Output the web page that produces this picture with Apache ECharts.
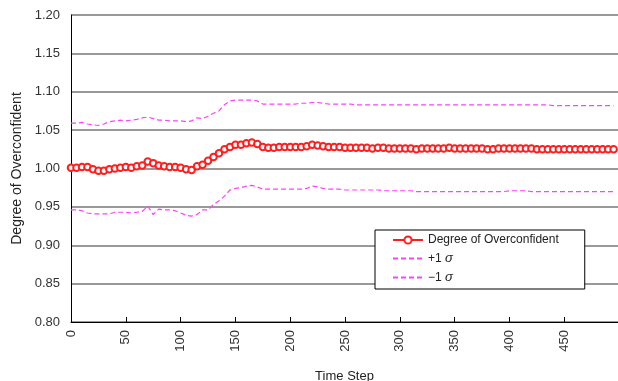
<!DOCTYPE html>
<html>
<head>
<meta charset="utf-8">
<script src="https://cdn.jsdelivr.net/npm/echarts@6/dist/echarts.min.js"></script>
<style>
html,body{margin:0;padding:0;background:#fff;}
#c{width:618px;height:381px;}
</style>
</head>
<body>
<div id="c"></div>
<script>
// Time steps sampled every 5 steps (0..495)
const timeSteps = Array.from({length: 100}, (_, i) => i * 5);
const xTicks = [0, 50, 100, 150, 200, 250, 300, 350, 400, 450];
const yTicks = [0.80, 0.85, 0.90, 0.95, 1.00, 1.05, 1.10, 1.15, 1.20];
const seriesNames = ['Degree of Overconfident', '+1 σ', '\u22121 σ'];

const degree = [
  1.001,1.001,1.002,1.002,0.999,0.997,0.997,0.999,1.000,1.001,
  1.002,1.001,1.003,1.004,1.009,1.007,1.004,1.003,1.002,1.002,
  1.001,0.999,0.998,1.003,1.005,1.010,1.015,1.020,1.025,1.028,
  1.031,1.031,1.033,1.034,1.032,1.028,1.027,1.027,1.028,1.028,
  1.028,1.028,1.028,1.029,1.031,1.030,1.029,1.028,1.028,1.028,
  1.027,1.027,1.027,1.027,1.027,1.026,1.027,1.027,1.026,1.026,
  1.026,1.026,1.026,1.025,1.026,1.026,1.026,1.026,1.026,1.027,
  1.026,1.026,1.026,1.026,1.026,1.026,1.025,1.025,1.026,1.026,
  1.026,1.026,1.026,1.026,1.026,1.025,1.025,1.025,1.025,1.025,
  1.025,1.025,1.025,1.025,1.025,1.025,1.025,1.025,1.025,1.025
];
const plusSigma = [
  1.059,1.059,1.060,1.058,1.057,1.056,1.058,1.061,1.062,1.063,
  1.062,1.063,1.064,1.066,1.067,1.065,1.063,1.063,1.062,1.062,
  1.062,1.061,1.062,1.066,1.065,1.068,1.072,1.075,1.083,1.088,
  1.089,1.089,1.089,1.089,1.088,1.084,1.084,1.084,1.084,1.084,
  1.084,1.084,1.085,1.085,1.086,1.086,1.085,1.084,1.084,1.084,
  1.084,1.084,1.083,1.083,1.083,1.083,1.083,1.083,1.083,1.083,
  1.083,1.083,1.083,1.083,1.083,1.083,1.083,1.083,1.083,1.083,
  1.083,1.083,1.083,1.083,1.083,1.083,1.083,1.083,1.083,1.083,
  1.083,1.083,1.083,1.083,1.083,1.083,1.083,1.083,1.082,1.082,
  1.082,1.082,1.082,1.082,1.082,1.082,1.082,1.082,1.082,1.082
];
const minusSigma = [
  0.946,0.946,0.945,0.942,0.941,0.941,0.941,0.941,0.943,0.943,
  0.943,0.942,0.943,0.944,0.951,0.940,0.947,0.946,0.946,0.945,
  0.942,0.939,0.938,0.940,0.946,0.946,0.953,0.958,0.964,0.972,
  0.974,0.975,0.977,0.978,0.976,0.973,0.973,0.973,0.973,0.973,
  0.973,0.973,0.973,0.974,0.977,0.976,0.974,0.973,0.973,0.973,
  0.972,0.972,0.972,0.972,0.972,0.972,0.972,0.971,0.971,0.971,
  0.971,0.971,0.971,0.970,0.970,0.970,0.970,0.970,0.970,0.970,
  0.970,0.970,0.970,0.970,0.970,0.970,0.970,0.970,0.970,0.970,
  0.971,0.971,0.971,0.971,0.970,0.970,0.970,0.970,0.970,0.970,
  0.970,0.970,0.970,0.970,0.970,0.970,0.970,0.970,0.970,0.970
];

const pair = arr => arr.map((v, i) => [timeSteps[i], v]);
const FONT = '"Liberation Sans", Arial, sans-serif';
const RED = '#ff1e1e';
const MAG = '#ff40ff';

const chart = echarts.init(document.getElementById('c'), null, {renderer: 'canvas'});
chart.setOption({
  animation: false,
  backgroundColor: '#fff',
  grid: {left: 71, right: 0, top: 15, bottom: 59, containLabel: false, outerBoundsMode: 'none'},
  xAxis: {
    type: 'value', min: 0, max: 499, interval: 50,
    name: 'Time Step', nameLocation: 'middle', nameGap: 48,
    nameTextStyle: {fontFamily: FONT, fontSize: 13, color: '#222'},
    axisLine: {lineStyle: {color: '#000', width: 1}},
    axisTick: {inside: true, length: 5, lineStyle: {color: '#000'}},
    axisLabel: {
      rotate: 90, margin: 8, fontFamily: FONT, fontSize: 13, color: '#333',
      showMaxLabel: false,
      formatter: v => xTicks.indexOf(v) >= 0 ? String(v) : ''
    },
    splitLine: {show: false}
  },
  yAxis: {
    type: 'value', min: 0.8, max: 1.2, interval: 0.05,
    name: 'Degree of Overconfident', nameLocation: 'middle', nameGap: 47,
    nameTextStyle: {fontFamily: FONT, fontSize: 14, color: '#222'},
    axisLine: {show: true, lineStyle: {color: '#000', width: 1}},
    axisTick: {show: false},
    axisLabel: {
      margin: 11, fontFamily: FONT, fontSize: 13, color: '#333',
      formatter: v => {
        const t = yTicks.find(y => Math.abs(y - v) < 1e-6);
        return t === undefined ? '' : t.toFixed(2);
      }
    },
    splitLine: {show: true, lineStyle: {color: '#777', width: 1.5}}
  },
  legend: {
    orient: 'vertical', left: 375, top: 230,
    backgroundColor: '#fff', borderColor: '#000', borderWidth: 1,
    padding: [4, 26, 5, 17],
    itemWidth: 30, itemHeight: 9, itemGap: 6,
    data: seriesNames,
    textStyle: {
      fontFamily: FONT, fontSize: 12, color: '#222',
      rich: {s: {fontStyle: 'italic', fontFamily: FONT, fontSize: 13, color: '#222'}}
    },
    formatter: n => n.replace('σ', '{s|σ}')
  },
  series: [
    {
      name: seriesNames[0], type: 'line', data: pair(degree),
      symbol: 'emptyCircle', symbolSize: 6.5, showAllSymbol: true,
      lineStyle: {color: RED, width: 2},
      itemStyle: {color: RED, borderColor: RED, borderWidth: 2},
      z: 3
    },
    {
      name: seriesNames[1], type: 'line', data: pair(plusSigma),
      symbol: 'none',
      lineStyle: {color: MAG, width: 1.2, type: [5, 3]},
      itemStyle: {color: 'rgba(0,0,0,0)'}
    },
    {
      name: seriesNames[2], type: 'line', data: pair(minusSigma),
      symbol: 'none',
      lineStyle: {color: MAG, width: 1.2, type: [5, 3]},
      itemStyle: {color: 'rgba(0,0,0,0)'}
    }
  ]
});
</script>
</body>
</html>
